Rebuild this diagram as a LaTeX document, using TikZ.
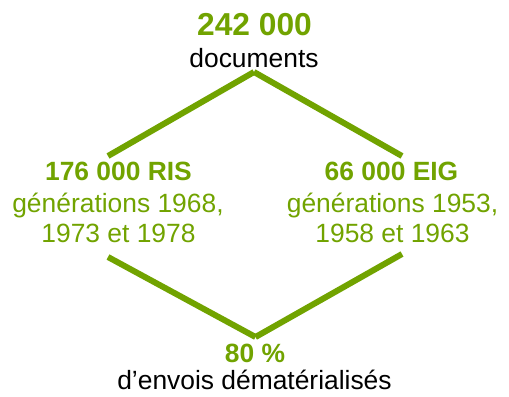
\documentclass[tikz,border=0pt]{standalone}
\usepackage{fontspec}
\setmainfont{Liberation Sans}
\usepackage{tikz}

\definecolor{vert}{RGB}{113,163,0}

\tikzset{
  chiffre/.style={anchor=base, inner sep=0pt, text=vert, font=\bfseries\fontsize{19.8}{24}\selectfont},
  gros/.style={chiffre, font=\bfseries\fontsize{23.8}{28}\selectfont},
  legende/.style={anchor=base, inner sep=0pt, text=vert, font=\fontsize{19.8}{24}\selectfont},
  noir/.style={legende, text=black},
  trait/.style={draw=vert, line width=4.5pt, line cap=butt}
}

\begin{document}
\begin{tikzpicture}[x=0.75pt, y=-0.75pt]
		\useasboundingbox (0,0) rectangle (509,396);

		% Top
		\node[gros] (total) at (254.5,35) {242 000};
		\node[noir] (docs) at (254,67) {documents};

		% Left branch
		\node[chiffre] (ris) at (118.5,180) {176 000 RIS};
		\node[legende] (risa) at (118,212) {générations 1968,};
		\node[legende] (risb) at (118.5,242) {1973 et 1978};

		% Right branch
		\node[chiffre] (eig) at (391.5,180) {66 000 EIG};
		\node[legende] (eiga) at (392.5,212) {générations 1953,};
		\node[legende] (eigb) at (392.5,242) {1958 et 1963};

		% Bottom
		\node[chiffre] (taux) at (255,362) {80 \%};
		\node[noir] (envois) at (254.5,389) {d’envois dématérialisés};

		% Line ends
		\coordinate (haut) at (254,72);
		\coordinate (hautg) at (108,156);
		\coordinate (hautd) at (402,156);
		\coordinate (basg) at (108,257);
		\coordinate (basd) at (402,254);
		\coordinate (bas) at (255.5,337);

		\draw[trait] (haut) -- (hautg);
		\draw[trait] (haut) -- (hautd);
		\draw[trait] (basg) -- (bas);
		\draw[trait] (basd) -- (bas);
	\end{tikzpicture}
\end{document}
